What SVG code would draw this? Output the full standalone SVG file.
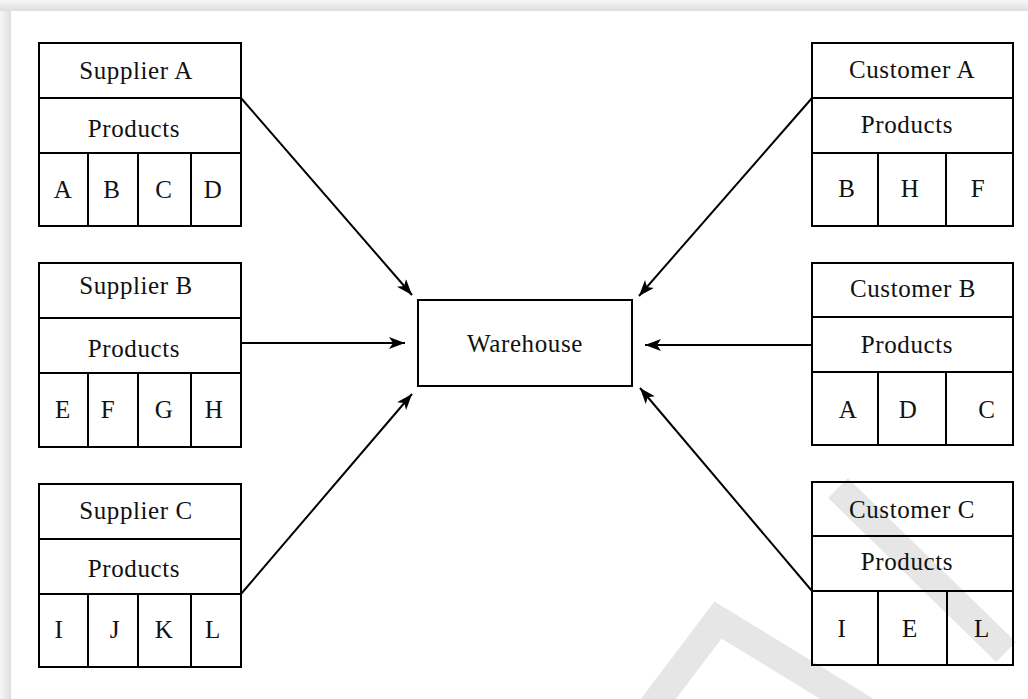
<svg xmlns="http://www.w3.org/2000/svg" width="1028" height="699" viewBox="0 0 1028 699">
<defs>
<linearGradient id="gt" x1="0" y1="0" x2="0" y2="1"><stop offset="0" stop-color="#f7f7f7"/><stop offset="1" stop-color="#dedede"/></linearGradient>
<linearGradient id="gl" x1="0" y1="0" x2="1" y2="0"><stop offset="0" stop-color="#f7f7f7"/><stop offset="1" stop-color="#dedede"/></linearGradient>
<marker id="ah" markerWidth="18" markerHeight="14" refX="16" refY="6" orient="auto" markerUnits="userSpaceOnUse"><path d="M0,0 L16,6 L0,12 L4,6 z" fill="#000"/></marker>
</defs>
<style>
.box{fill:none;stroke:#000;stroke-width:2}
.ln{stroke:#000;stroke-width:2;fill:none}
text{font-family:"Liberation Serif",serif;font-size:25px;fill:#111;text-anchor:middle;letter-spacing:0.6px}
.con{stroke:#000;stroke-width:2;fill:none;marker-end:url(#ah)}
.wm{stroke:#e6e6e6;stroke-width:28;fill:none;stroke-linecap:butt;stroke-linejoin:miter}
</style>
<rect width="1028" height="699" fill="#fff"/>
<rect x="0" y="0" width="1028" height="11" fill="url(#gt)"/>
<rect x="0" y="11" width="11" height="688" fill="url(#gl)"/>
<g id="watermark">
<path class="wm" d="M838,488 L1006,652"/>
<path class="wm" d="M650,710 L718,620 L865,710"/>
</g>
<g id="connectors">
<line class="con" x1="241" y1="98" x2="412" y2="295"/>
<line class="con" x1="812" y1="98" x2="639" y2="296"/>
<line class="con" x1="241" y1="343" x2="405" y2="343"/>
<line class="con" x1="812" y1="345" x2="645" y2="345"/>
<line class="con" x1="241" y1="594" x2="412" y2="394"/>
<line class="con" x1="812" y1="591" x2="640" y2="388"/>
</g>
<g id="supplierA">
<rect class="box" x="39" y="43" width="202" height="183"/>
<path class="ln" d="M39,98H241M39,153H241M88,153V226M138,153V226M191,153V226"/>
<text x="136" y="79">Supplier A</text>
<text x="134" y="137">Products</text>
<text x="63" y="198">A</text><text x="112" y="198">B</text><text x="164" y="198">C</text><text x="213" y="198">D</text>
</g>
<g id="supplierB">
<rect class="box" x="39" y="263" width="202" height="184"/>
<path class="ln" d="M39,318H241M39,373H241M88,373V447M138,373V447M191,373V447"/>
<text x="136" y="294">Supplier B</text>
<text x="134" y="357">Products</text>
<text x="63" y="418">E</text><text x="108" y="418">F</text><text x="164" y="418">G</text><text x="214" y="418">H</text>
</g>
<g id="supplierC">
<rect class="box" x="39" y="484" width="202" height="183"/>
<path class="ln" d="M39,539H241M39,594H241M88,594V667M138,594V667M191,594V667"/>
<text x="136" y="519">Supplier C</text>
<text x="134" y="577">Products</text>
<text x="59" y="638">I</text><text x="115" y="638">J</text><text x="164" y="638">K</text><text x="213" y="638">L</text>
</g>
<g id="warehouse">
<rect class="box" x="418" y="300" width="214" height="86"/>
<text x="525" y="352">Warehouse</text>
</g>
<g id="customerA">
<rect class="box" x="812" y="43" width="201" height="183"/>
<path class="ln" d="M812,98H1013M812,153H1013M878,153V226M946,153V226"/>
<text x="912" y="78">Customer A</text>
<text x="907" y="133">Products</text>
<text x="847" y="197">B</text><text x="910" y="197">H</text><text x="978" y="197">F</text>
</g>
<g id="customerB">
<rect class="box" x="812" y="263" width="201" height="182"/>
<path class="ln" d="M812,317H1013M812,372H1013M878,372V445M946,372V445"/>
<text x="913" y="297">Customer B</text>
<text x="907" y="353">Products</text>
<text x="848" y="418">A</text><text x="908" y="418">D</text><text x="987" y="418">C</text>
</g>
<g id="customerC">
<rect class="box" x="812" y="482" width="201" height="183"/>
<path class="ln" d="M812,536H1013M812,591H1013M878,591V665M947,591V665"/>
<text x="912" y="518">Customer C</text>
<text x="907" y="570">Products</text>
<text x="842" y="637">I</text><text x="910" y="637">E</text><text x="982" y="637">L</text>
</g>
</svg>
